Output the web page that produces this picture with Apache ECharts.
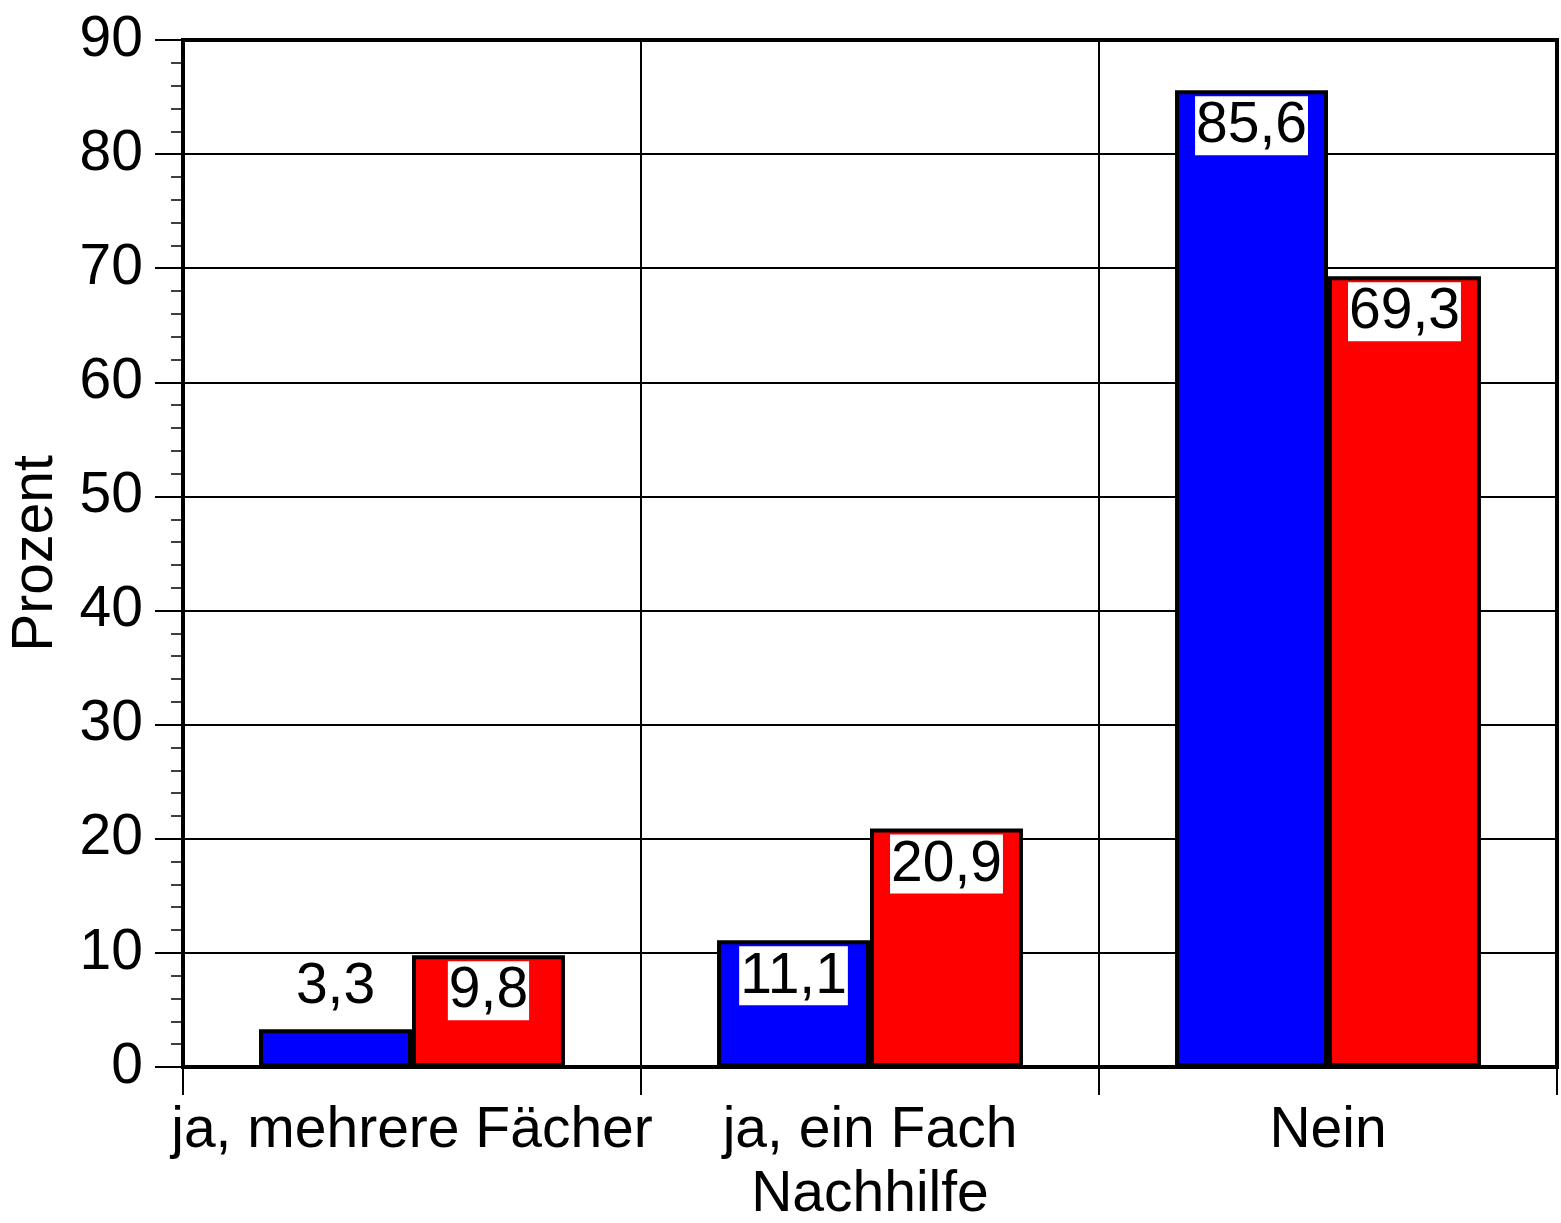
<!DOCTYPE html>
<html>
<head>
<meta charset="utf-8">
<script src="https://cdn.jsdelivr.net/npm/echarts@6/dist/echarts.min.js"></script>
<style>
  html, body { margin: 0; padding: 0; background: #fff; }
  #chart { width: 1561px; height: 1223px; }
</style>
</head>
<body>
<div id="chart"></div>
<script>
// Kategorien und Werte (Prozent)
var categories = ['ja, mehrere Fächer', 'ja, ein Fach', 'Nein'];
var blueValues = [3.3, 11.1, 85.6];
var redValues = [9.8, 20.9, 69.3];
var yTicks = [0, 10, 20, 30, 40, 50, 60, 70, 80, 90];

var FONT = '"Liberation Sans", Arial, Helvetica, sans-serif';
var FS = 57;

function fmt(v) {
  return String(v.toFixed(1)).replace('.', ',');
}

// kleine Balken: Beschriftung über dem Balken
function barData(values) {
  return values.map(function (v) {
    if (v < 5) {
      return { value: v, label: { position: 'top', distance: 14, backgroundColor: 'transparent' } };
    }
    return v;
  });
}

var labelStyle = {
  show: true,
  position: 'insideTop',
  distance: 6,
  formatter: function (p) { return fmt(p.value); },
  color: '#000',
  fontFamily: FONT,
  fontSize: FS,
  backgroundColor: '#fff',
  padding: [2, 1, 0, 1]
};

var myChart = echarts.init(document.getElementById('chart'));
var option = {
  animation: false,
  backgroundColor: '#fff',
  grid: {
    left: 183, right: 4, top: 40, bottom: 156,
    outerBoundsMode: 'none',
    containLabel: false,
    show: true, borderColor: '#000', borderWidth: 4, backgroundColor: 'transparent'
  },
  xAxis: {
    type: 'category',
    data: categories,
    name: 'Nachhilfe',
    nameLocation: 'middle',
    nameGap: 100,
    nameTextStyle: { color: '#000', fontFamily: FONT, fontSize: FS },
    axisLine: { show: true, lineStyle: { color: '#000', width: 4 } },
    axisTick: { show: true, interval: 0, length: 28, lineStyle: { color: '#000', width: 2 } },
    axisLabel: { interval: 0, hideOverlap: false, color: '#000', fontFamily: FONT, fontSize: FS, margin: 36 },
    splitLine: { show: true, interval: 0, lineStyle: { color: '#000', width: 2 } }
  },
  yAxis: {
    type: 'value',
    min: 0, max: 90, interval: 10,
    name: 'Prozent',
    nameLocation: 'middle',
    nameGap: 118,
    nameTextStyle: { color: '#000', fontFamily: FONT, fontSize: FS },
    axisLine: { show: true, lineStyle: { color: '#000', width: 4 } },
    axisTick: { show: true, length: 28, lineStyle: { color: '#000', width: 2 } },
    minorTick: { show: true, splitNumber: 5, length: 12, lineStyle: { color: '#000', width: 1.5 } },
    axisLabel: {
      color: '#000', fontFamily: FONT, fontSize: FS, margin: 40,
      formatter: function (v) { return yTicks.indexOf(v) >= 0 ? String(v) : ''; }
    },
    splitLine: { show: true, lineStyle: { color: '#000', width: 2 } }
  },
  series: [
    {
      name: 'Blau',
      type: 'bar',
      data: barData(blueValues),
      barGap: '0%',
      barCategoryGap: '33.2%',
      itemStyle: { color: '#0000ff', borderColor: '#000', borderWidth: 4 },
      label: labelStyle
    },
    {
      name: 'Rot',
      type: 'bar',
      data: barData(redValues),
      barGap: '0%',
      barCategoryGap: '33.2%',
      itemStyle: { color: '#ff0000', borderColor: '#000', borderWidth: 4 },
      label: labelStyle
    }
  ]
};
myChart.setOption(option);
</script>
</body>
</html>
